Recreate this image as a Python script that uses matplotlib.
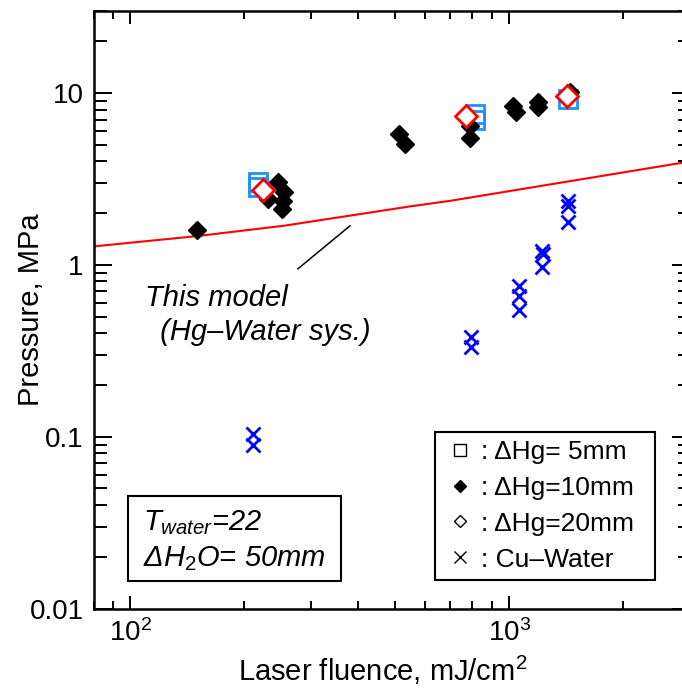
import matplotlib
matplotlib.use('Agg')
import matplotlib.pyplot as plt
from matplotlib.lines import Line2D
from matplotlib.patches import Rectangle
from matplotlib.ticker import LogLocator, NullFormatter, FixedLocator, FixedFormatter

plt.rcParams['font.family'] = ['Liberation Sans', 'DejaVu Sans']
plt.rcParams['mathtext.fontset'] = 'custom'
plt.rcParams['mathtext.rm'] = 'Liberation Sans'
plt.rcParams['mathtext.it'] = 'Liberation Sans:italic'
plt.rcParams['mathtext.bf'] = 'Liberation Sans:bold'

# dHg = 5 mm (open squares)
hg5_x = [217, 217, 814, 814, 1432]
hg5_y = [3.04, 2.84, 7.55, 6.97, 9.23]

# dHg = 10 mm (filled diamonds)
hg10_x = [150, 245, 254, 231, 253, 252, 511, 532, 789, 789, 1024, 1043, 1190, 1190, 1450]
hg10_y = [1.60, 3.02, 2.65, 2.42, 2.36, 2.10, 5.78, 5.05, 6.45, 5.47, 8.44, 7.72, 8.90, 8.26, 10.1]

# dHg = 20 mm (open diamonds)
hg20_x = [224, 769, 1425]
hg20_y = [2.73, 7.38, 9.60]

# Cu-water reference
cu_x = [211, 211, 794, 794, 1063, 1063, 1063, 1219, 1228, 1219, 1430, 1430, 1430]
cu_y = [0.104, 0.089, 0.38, 0.332, 0.758, 0.663, 0.543, 1.21, 1.16, 0.97, 2.36, 2.21, 1.77]

# model curve (Hg-water system)
model_x = [80, 150, 255, 549, 700, 2846, 3000]
model_y = [1.28, 1.47, 1.69, 2.19, 2.36, 3.92, 4.0]

# leader line from the model label to the curve
leader_x = [277, 380]
leader_y = [0.948, 1.686]

ytick_vals = [0.01, 0.1, 1, 10]
ytick_labels = ['0.01', '0.1', '1', '10']
xtick_vals = [100, 1000]

legend_labels = [': \u0394Hg= 5mm', ': \u0394Hg=10mm', ': \u0394Hg=20mm', ': Cu\u2013Water']

fig = plt.figure(figsize=(6.82, 6.93), dpi=100)
ax = fig.add_axes([0.1371, 0.1219, 0.8746, 0.8622])
ax.set_xscale('log')
ax.set_yscale('log')
ax.set_xlim(80, 3000)
ax.set_ylim(0.01, 30)

ax.plot(model_x, model_y, color='red', lw=1.5, zorder=2)
ax.plot(leader_x, leader_y, color='black', lw=1.1, zorder=2)

ax.plot(hg5_x, hg5_y, ls='none', marker='s', ms=13, mfc='none', mec='#1e90ff', mew=2, zorder=3)
ax.plot(hg10_x, hg10_y, ls='none', marker='D', ms=9, color='black', zorder=4)
ax.plot(hg20_x, hg20_y, ls='none', marker='D', ms=11, mfc='white', mec='red', mew=2, zorder=5)
ax.plot(cu_x, cu_y, ls='none', marker='x', ms=10, color='blue', mew=2, zorder=3)

for side in ax.spines.values():
    side.set_linewidth(1.8)

ax.xaxis.set_major_locator(FixedLocator(xtick_vals))
ax.xaxis.set_minor_locator(LogLocator(base=10, subs=range(2, 10), numticks=20))
ax.xaxis.set_minor_formatter(NullFormatter())
ax.yaxis.set_major_locator(FixedLocator(ytick_vals))
ax.yaxis.set_major_formatter(FixedFormatter(ytick_labels))
ax.yaxis.set_minor_locator(LogLocator(base=10, subs=range(2, 10), numticks=20))
ax.yaxis.set_minor_formatter(NullFormatter())

ax.tick_params(which='both', direction='in', top=True, right=True, width=1.4, labelsize=20)
ax.tick_params(axis='x', which='major', length=9.5, pad=8)
ax.tick_params(axis='x', which='minor', length=5.5)
ax.tick_params(axis='y', which='major', length=13, pad=7)
ax.tick_params(axis='y', which='minor', length=9)

ax.set_xlabel('Laser fluence, mJ/cm$^2$', fontsize=21)
ax.xaxis.set_label_coords(0.485, -0.075)
ax.set_ylabel('Pressure, MPa', fontsize=21)
ax.yaxis.set_label_coords(-0.082, 0.5)

# model label
ax.text(0.0863, 0.5063, 'This model', transform=ax.transAxes, fontsize=21,
        style='italic', ha='left', va='baseline')
ax.text(0.098, 0.449, ' (Hg\u2013Water sys.)', transform=ax.transAxes, fontsize=21,
        style='italic', ha='left', va='baseline')

# conditions box
ax.add_patch(Rectangle((0.0583, 0.046), 0.3566, 0.1428, transform=ax.transAxes,
                       fc='white', ec='black', lw=1.5, zorder=6))
ax.text(0.083, 0.1315, '$T_{water}$=22', transform=ax.transAxes, fontsize=21,
        style='italic', ha='left', va='baseline', zorder=7)
ax.text(0.083, 0.0703, '\u0394$H_2O$= 50mm', transform=ax.transAxes, fontsize=21,
        style='italic', ha='left', va='baseline', zorder=7)

handles = [
    Line2D([], [], ls='none', marker='s', ms=8, mfc='none', mec='black', mew=1),
    Line2D([], [], ls='none', marker='D', ms=6, color='black'),
    Line2D([], [], ls='none', marker='D', ms=6, mfc='none', mec='black', mew=1),
    Line2D([], [], ls='none', marker='x', ms=8, color='black', mew=1),
]
leg = ax.legend(handles, legend_labels, loc='lower left',
                bbox_to_anchor=(0.572, 0.0477, 0.37, 0.25), mode='expand',
                fontsize=19, frameon=True, fancybox=False, framealpha=1,
                edgecolor='black', borderpad=0.32, labelspacing=0.45,
                handlelength=1.3, handletextpad=0.15, borderaxespad=0)
leg.get_frame().set_linewidth(1.5)
leg.set_zorder(8)

fig.savefig('out.png', dpi=100)
